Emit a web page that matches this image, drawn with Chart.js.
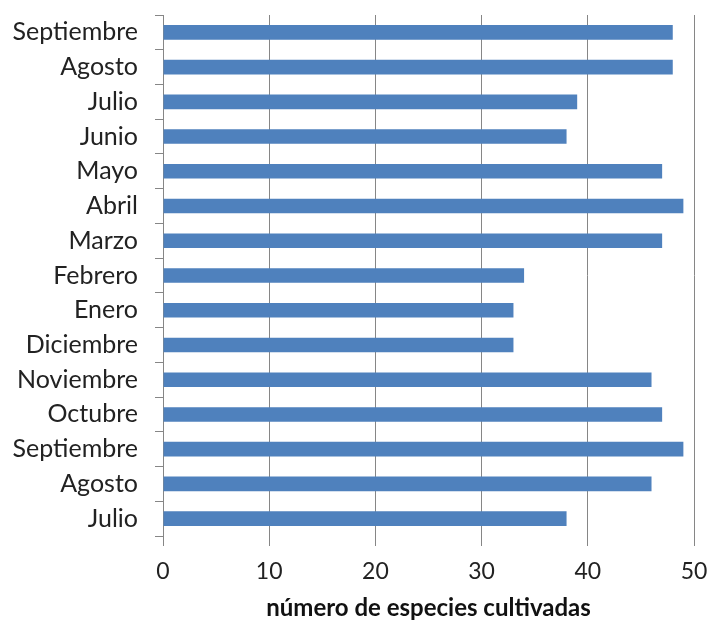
<!DOCTYPE html>
<html>
<head>
<meta charset="utf-8">
<script src="https://cdn.jsdelivr.net/npm/chart.js@4"></script>
<style>
    html, body { margin: 0; padding: 0; background: #fff; }
    #wrap { width: 710px; height: 623px; }
</style>
</head>
<body>
<div id="wrap"><canvas id="chart" width="710" height="623"></canvas></div>
<script>
/* ---------------- Data ---------------- */
const months = [
    "Septiembre", "Agosto", "Julio", "Junio", "Mayo", "Abril", "Marzo",
    "Febrero", "Enero", "Diciembre", "Noviembre", "Octubre",
    "Septiembre", "Agosto", "Julio"
];
const species = [48, 48, 39, 38, 47, 49, 47, 34, 33, 33, 46, 47, 49, 46, 38];
const xTicks = [0, 10, 20, 30, 40, 50];

const FONT = "Lato, 'Liberation Sans', sans-serif";

/* ---------------- Chart ---------------- */
new Chart(document.getElementById("chart"), {
    type: "bar",
    data: {
        labels: months,
        datasets: [{
            label: "número de especies cultivadas",
            data: species,
            backgroundColor: "#4F81BD",
            borderWidth: 0,
            barPercentage: 0.42,
            categoryPercentage: 1
        }]
    },
    options: {
        indexAxis: "y",
        responsive: false,
        animation: false,
        layout: { padding: { top: 15, right: 16, left: 0, bottom: 0 } },
        plugins: {
            legend: { display: false },
            tooltip: { enabled: false }
        },
        scales: {
            x: {
                min: 0,
                max: 50,
                afterBuildTicks: axis => {
                    axis.ticks = xTicks.map(v => ({ value: v }));
                },
                afterFit: axis => {
                    axis.height = 87;
                    axis.paddingLeft = 0;
                    axis.paddingRight = 0;
                },
                grid: {
                    color: "#868686",
                    lineWidth: 1,
                    tickLength: 10
                },
                border: { display: false },
                ticks: {
                    color: "#222",
                    padding: 12,
                    font: { family: FONT, size: 23 }
                },
                title: {
                    display: true,
                    text: "número de especies cultivadas",
                    color: "#111",
                    padding: { top: 4, bottom: 0 },
                    font: { family: FONT, size: 24, weight: "bold" }
                }
            },
            y: {
                afterFit: axis => {
                    axis.width = 163;
                    // labels sit mid-category, no need for extra room above/below
                    axis.paddingTop = 0;
                    axis.paddingBottom = 0;
                },
                grid: {
                    drawOnChartArea: false,
                    color: "#868686",
                    tickLength: 8
                },
                border: { display: true, color: "#868686" },
                ticks: {
                    color: "#222",
                    padding: 17,
                    autoSkip: false,
                    font: { family: FONT, size: 25 }
                }
            }
        }
    }
});
</script>
</body>
</html>
